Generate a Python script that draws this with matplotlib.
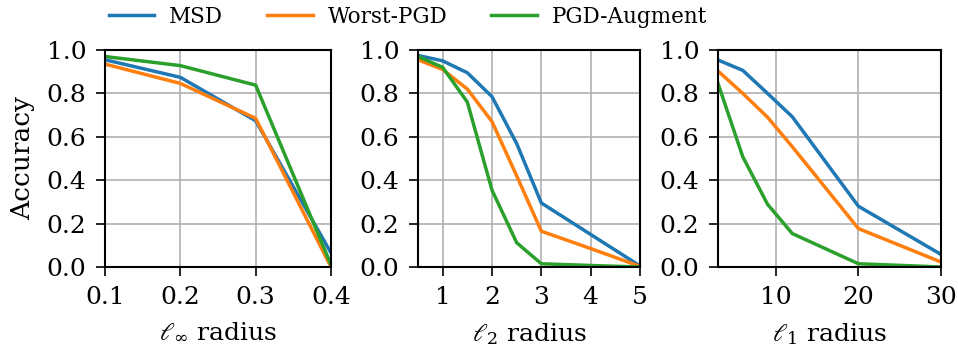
import matplotlib
matplotlib.use("Agg")
import matplotlib.pyplot as plt

plt.rcParams['font.family'] = ['DejaVu Serif']
plt.rcParams['mathtext.fontset'] = 'dejavuserif'

linf_x = [0.1, 0.2, 0.3, 0.4]
linf_msd = [0.955, 0.874, 0.674, 0.065]
linf_worst = [0.935, 0.846, 0.685, 0.0]
linf_aug = [0.97, 0.928, 0.838, 0.01]

l2_x = [0.5, 1.0, 1.5, 2.0, 2.5, 3.0, 4.0, 5.0]
l2_msd = [0.975, 0.95, 0.895, 0.785, 0.569, 0.295, 0.15, 0.005]
l2_worst = [0.955, 0.91, 0.82, 0.67, 0.42, 0.165, 0.085, 0.003]
l2_aug = [0.97, 0.92, 0.76, 0.354, 0.112, 0.015, 0.007, 0.0]

l1_x = [3, 6, 9, 12, 20, 30]
l1_msd = [0.954, 0.906, 0.80, 0.692, 0.28, 0.058]
l1_worst = [0.903, 0.80, 0.69, 0.554, 0.177, 0.023]
l1_aug = [0.846, 0.508, 0.289, 0.154, 0.015, 0.0]

series_names = ["MSD", "Worst-PGD", "PGD-Augment"]
colors = ["#1f77b4", "#ff7f0e", "#2ca02c"]

panels = [
    (linf_x, [linf_msd, linf_worst, linf_aug], r"$\ell_\infty$ radius", (0.1, 0.4), [0.1, 0.2, 0.3, 0.4], ["0.1", "0.2", "0.3", "0.4"]),
    (l2_x, [l2_msd, l2_worst, l2_aug], r"$\ell_2$ radius", (0.5, 5), [1, 2, 3, 4, 5], ["1", "2", "3", "4", "5"]),
    (l1_x, [l1_msd, l1_worst, l1_aug], r"$\ell_1$ radius", (3, 30), [10, 20, 30], ["10", "20", "30"]),
]

fig = plt.figure(figsize=(9.58, 3.47), dpi=100)
lefts = [105, 418, 718]
rights = [331, 640, 941]
bottom = 1 - 267 / 347
top = 1 - 50 / 347
handles = None
for i, (x, ys, xl, xlim, xt, xtl) in enumerate(panels):
    ax = fig.add_axes([lefts[i] / 958, bottom, (rights[i] - lefts[i]) / 958, top - bottom])
    hs = []
    for y, c, n in zip(ys, colors, series_names):
        h, = ax.plot(x, y, color=c, lw=2.5, label=n, clip_on=True)
        hs.append(h)
    handles = hs
    ax.set_xlim(*xlim)
    ax.set_ylim(0, 1.0)
    ax.set_xticks(xt)
    ax.set_xticklabels(xtl)
    ax.set_yticks([0, 0.2, 0.4, 0.6, 0.8, 1.0])
    ax.set_yticklabels(["0.0", "0.2", "0.4", "0.6", "0.8", "1.0"])
    ax.grid(True, color="#b0b0b0", lw=1.2)
    ax.set_axisbelow(True)
    ax.tick_params(labelsize=18, length=6.5, width=1.2, pad=7)
    for s in ax.spines.values():
        s.set_linewidth(1.5)
    ax.set_xlabel(xl, fontsize=18, labelpad=9)
    if i == 0:
        ax.set_ylabel("Accuracy", fontsize=19, labelpad=8)

fig.legend(handles, series_names, loc="center", bbox_to_anchor=(408 / 958, 1 - 17 / 347), ncol=3,
           frameon=False, fontsize=15.5, handlelength=2.1, handletextpad=0.7, columnspacing=2.05,
           borderpad=0)
fig.savefig("out.png", dpi=100)
